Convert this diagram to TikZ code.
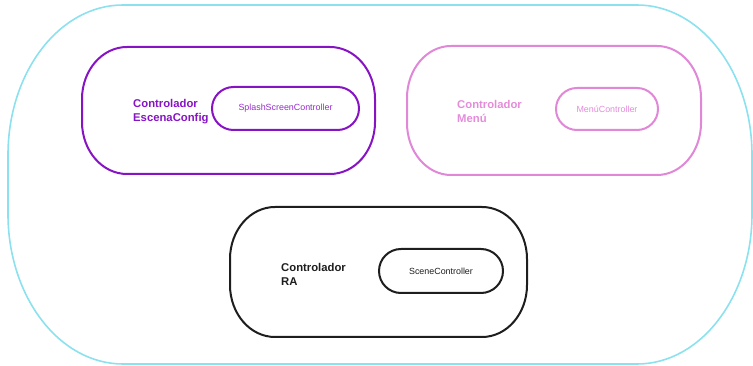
\documentclass[tikz,border=0pt]{standalone}
\usepackage{fontspec}
\setmainfont{Liberation Sans}
\usetikzlibrary{shapes.misc}
\definecolor{cpurple}{RGB}{135,20,195}
\definecolor{cpurpletxt}{RGB}{150,45,205}
\definecolor{cpink}{RGB}{225,135,215}
\definecolor{cpinktxt}{RGB}{228,140,218}
\definecolor{ccyan}{RGB}{140,225,238}
\definecolor{cdark}{RGB}{30,30,30}
\newcommand\ellbox[7]{% style, x1, y1, x2, y2, rx, ry
  \draw[#1] ({#2+#6},#3) -- ({#4-#6},#3)
    arc[start angle=-90,end angle=0,x radius=#6,y radius=#7]
    -- (#4,{#5-#7})
    arc[start angle=0,end angle=90,x radius=#6,y radius=#7]
    -- ({#2+#6},#5)
    arc[start angle=90,end angle=180,x radius=#6,y radius=#7]
    -- (#2,{#3+#7})
    arc[start angle=180,end angle=270,x radius=#6,y radius=#7] -- cycle;}
\tikzset{
  pill/.style={rounded rectangle, draw, line width=2pt, inner sep=0pt,
    font=\fontsize{8.9}{10}\selectfont},
  lbl/.style={anchor=west, align=left, inner sep=0pt,
    font=\fontsize{11.3}{14.5}\selectfont\bfseries},
}
\begin{document}
\begin{tikzpicture}[x=1pt,y=-1pt]
\useasboundingbox (0,0) rectangle (753,366);
% outer container
\ellbox{ccyan,line width=1.6pt}{8}{5}{752}{364}{115}{150}
% group boxes
\ellbox{cpurple,line width=2pt}{82}{47}{375}{174}{45}{52}
\ellbox{cpink,line width=2pt}{407}{46}{701}{175}{44}{52}
\ellbox{cdark,line width=2pt}{230}{207}{527}{337}{45}{52}
% labels
\node[lbl,text=cpurple] (lblconfig) at (133,111.5) {Controlador\\EscenaConfig};
\node[lbl,text=cpinktxt] (lblmenu) at (457,111.5) {Controlador\\Menú};
\node[lbl,text=cdark] (lblra) at (281,274.5) {Controlador\\RA};
% inner controllers
\node[pill,draw=cpurple,text=cpurpletxt,minimum width=147pt,minimum height=43pt] (splash) at (285.5,108.5) {SplashScreenController};
\node[pill,draw=cpink,text=cpinktxt,minimum width=102pt,minimum height=42pt] (menu) at (607,109) {MenúController};
\node[pill,draw=cdark,text=cdark,minimum width=124pt,minimum height=44pt] (scene) at (441,271) {SceneController};
\end{tikzpicture}
\end{document}
